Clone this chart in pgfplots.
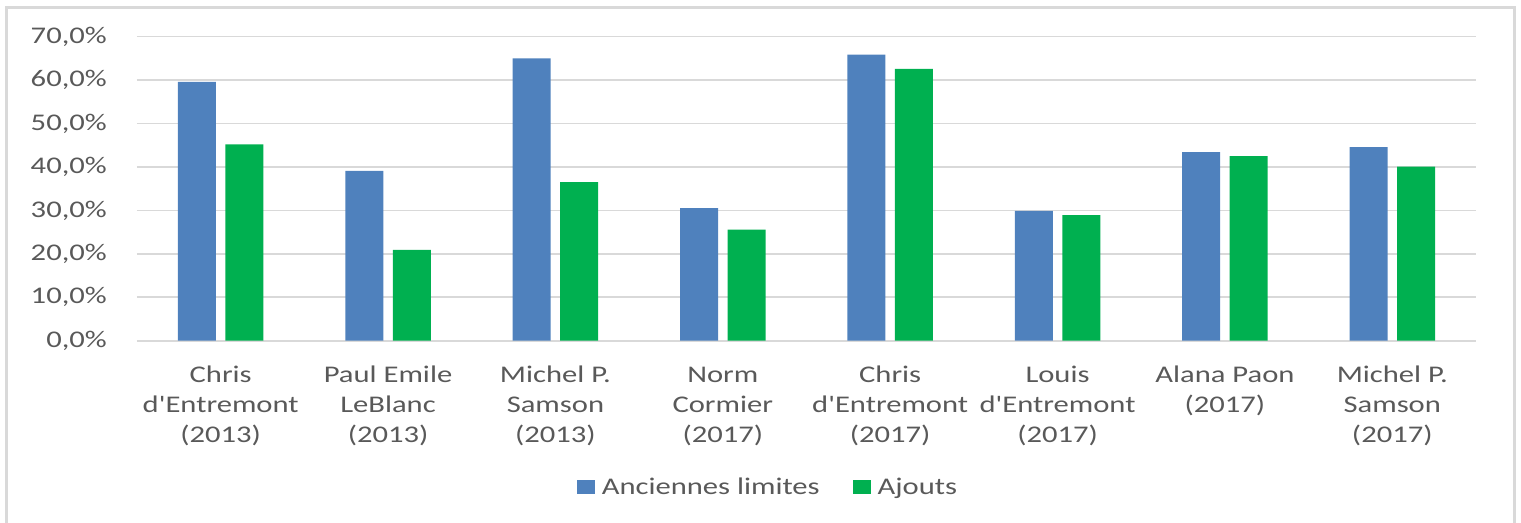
\documentclass[border=0pt]{standalone}
\usepackage{fontspec}
\setmainfont{Carlito}[FakeStretch=1.28, Ligatures=TeXOff]
\usepackage{pgfplots}
\pgfplotsset{compat=1.18}
\definecolor{cblue}{HTML}{4F81BD}
\definecolor{cgreen}{HTML}{00B050}
\definecolor{ctext}{HTML}{595959}
\definecolor{cgrid}{HTML}{D9D9D9}
\newcommand\lstrut{\rule{0pt}{20bp}}
\begin{document}
\begin{tikzpicture}
\begin{axis}[
  scale only axis,
  width=1339bp, height=304bp,
  ymin=0, ymax=70, ytick={0,10,...,70},
  xmin=-0.5, xmax=7.5,
  xtick={0,1,2,3,4,5,6,7},
  xticklabels={
    {\lstrut Chris\\d'Entremont\\(2013)},
    {\lstrut Paul Emile\\LeBlanc\\(2013)},
    {\lstrut Michel P.\\Samson\\(2013)},
    {\lstrut Norm\\Cormier\\(2017)},
    {\lstrut Chris\\d'Entremont\\(2017)},
    {\lstrut Louis\\d'Entremont\\(2017)},
    {\lstrut Alana Paon\\(2017)},
    {\lstrut Michel P.\\Samson\\(2017)}},
  ybar=9.5bp, bar width=38bp,
  axis line style={draw=none},
  major tick length=0pt,
  ymajorgrids, grid style={cgrid, line width=1.6bp},
  /pgf/number format/assume math mode=true,
  yticklabel={\pgfmathprintnumber[fixed,fixed zerofill,precision=1,use comma]{\tick}\%},
  tick label style={font=\fontsize{24}{30.5}\selectfont, text=ctext},
  yticklabel style={anchor=east, inner sep=0pt, xshift=-30bp},
  xticklabel style={align=center, anchor=north, inner sep=0pt, yshift=-21.3bp},
  legend columns=2,
  legend style={draw=none, fill=none, at={(0.4705,-0.480)}, anchor=center,
    font=\fontsize{24}{30.5}\selectfont, text=ctext,
    /tikz/every even column/.append style={column sep=33bp},
    nodes={inner sep=0pt}},
  legend image code/.code={\fill (0bp,-7bp) rectangle (18bp,7bp); \path (25bp,0bp);},
]
\addplot[fill=cblue, draw=none] coordinates {(0,59.6) (1,39.1) (2,65.0) (3,30.5) (4,65.9) (5,29.9) (6,43.4) (7,44.6)};
\addplot[fill=cgreen, draw=none] coordinates {(0,45.2) (1,20.9) (2,36.5) (3,25.6) (4,62.6) (5,28.9) (6,42.5) (7,40.1)};
\legend{Anciennes limites, Ajouts}
\end{axis}
\draw[cgrid, line width=3bp] (-130.5bp,-190bp) -- (-130.5bp,332.7bp) -- (1377.5bp,332.7bp) -- (1377.5bp,-190bp);
\pgfresetboundingbox
\path[use as bounding box] (-137bp,-182.3bp) rectangle (1384bp,340.7bp);
\end{tikzpicture}
\end{document}
